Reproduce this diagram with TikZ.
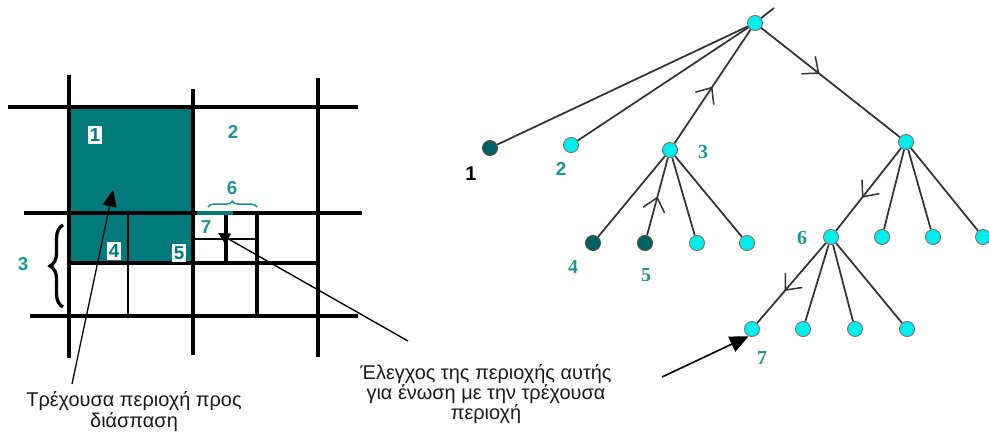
\documentclass[tikz,border=0pt]{standalone}
\usepackage{fontspec}
\setmainfont{Liberation Sans}
\newfontfamily\labelserif{Liberation Serif}
\usetikzlibrary{arrows.meta,decorations.pathreplacing,decorations.markings}

\definecolor{regionteal}{RGB}{0,122,122}
\definecolor{labelteal}{RGB}{25,150,150}
\definecolor{leafcyan}{RGB}{0,238,238}
\definecolor{leafdark}{RGB}{0,98,98}

\tikzset{
  gridline/.style={line width=3.2pt},
  thinline/.style={line width=1.8pt},
  leaf/.style={circle, draw=black!55, line width=0.8pt, fill=leafcyan,
    minimum size=0.45cm, inner sep=0pt},
  doneleaf/.style={leaf, fill=leafdark, draw=black!70},
  edge/.style={draw=black!80, line width=1.5pt},
  midarrow/.style={postaction={decorate}, decoration={markings,
    mark=at position #1 with {\arrow{Straight Barb[length=11pt,width=19pt,line width=1.3pt]}}}},
  numbox/.style={fill=white, text=regionteal, inner sep=1.8pt,
    font=\bfseries\fontsize{16}{16}\selectfont},
  numtext/.style={text=labelteal, font=\bfseries\fontsize{16}{16}\selectfont},
  treenum/.style={text=labelteal, font=\labelserif\bfseries\fontsize{17}{17}\selectfont},
  note/.style={align=center, font=\fontsize{17}{16.2}\selectfont, text=black!90},
  pointer/.style={line width=1.1pt, -{Triangle[length=14pt,width=12pt]}},
}

\begin{document}
\begin{tikzpicture}[x=0.03cm, y=-0.03cm]
\useasboundingbox (0,0) rectangle (989,436);

% region being split
\fill[regionteal] (69,107) rectangle (193,263);

% main grid
\draw[gridline] (69,75) -- (69,358);
\draw[gridline] (193,89) -- (193,355);
\draw[gridline] (318,78) -- (318,357);
\draw[gridline] (8,107) -- (358,107);
\draw[gridline] (24,213) -- (362,213);
\draw[gridline] (69,263) -- (318,263);
\draw[gridline] (30,316) -- (358,316);

% finer cells
\draw[thinline] (128,213) -- (128,316);
\draw[gridline] (257,213) -- (257,316);
\draw[gridline] (226,213) -- (226,263);
\draw[thinline] (193,239) -- (257,239);
\draw[regionteal, line width=3.2pt] (197,213) -- (233,213);

% braces
\draw[line width=2.8pt, decorate, decoration={brace, amplitude=11pt}] (63,307) -- (63,225);
\draw[labelteal, line width=1.3pt, decorate, decoration={brace, amplitude=5pt}] (208,207) -- (257,207);

% region labels
\node[numbox] (g1) at (95,135) {1};
\node[numtext] (g2) at (233,132) {2};
\node[numtext] (g3) at (23,264) {3};
\node[numbox] (g4) at (114,251) {4};
\node[numbox] (g5) at (179,253) {5};
\node[numtext] (g6) at (232,188) {6};
\node[numbox, text=labelteal] (g7) at (206,227) {7};

% notes
\node[note, font=\fontsize{17}{17.9}\selectfont] (splitnote) at (134,412) {Τρέχουσα περιοχή προς\\διάσπαση};
\node[note] (checknote) at (486,394) {Έλεγχος της περιοχής αυτής\\για ένωση με την τρέχουσα\\περιοχή};

\coordinate (splittip) at (113,190);
\coordinate (splitfoot) at (72,384);
\coordinate (cellmark) at (218,233);
\coordinate (checkfoot) at (408,341);
\coordinate (treefoot) at (662,377);

\draw[pointer] (splitfoot) -- (splittip);
\draw[line width=1.2pt, -{Triangle[length=10pt,width=10pt]}] (checkfoot) -- (cellmark);

% tree
\node[leaf] (root) at (755,23) {};
\node[doneleaf] (n1) at (490,148) {};
\node[leaf] (n2) at (571,145) {};
\node[leaf] (n3) at (670,150) {};
\node[leaf] (nR) at (906,142) {};
\node[doneleaf] (n4) at (593,243) {};
\node[doneleaf] (n5) at (645,243) {};
\node[leaf] (n3c) at (697,243) {};
\node[leaf] (n3d) at (747,243) {};
\node[leaf] (n6) at (831,237) {};
\node[leaf] (nRb) at (882,237) {};
\node[leaf] (nRc) at (933,237) {};
\node[leaf] (nRd) at (983,237) {};
\node[leaf] (n7) at (752,329) {};
\node[leaf] (n6b) at (803,329) {};
\node[leaf] (n6c) at (855,329) {};
\node[leaf] (n6d) at (907,329) {};
\coordinate (up) at (774,8);

\draw[edge] (root) -- (up);
\draw[edge] (root) -- (n1);
\draw[edge] (root) -- (n2);
\draw[edge, midarrow=0.5] (n3) -- (root);
\draw[edge, midarrow=0.42] (root) -- (nR);
\draw[edge] (n3) -- (n4);
\draw[edge, midarrow=0.5] (n5) -- (n3);
\draw[edge] (n3) -- (n3c);
\draw[edge] (n3) -- (n3d);
\draw[edge, midarrow=0.6] (nR) -- (n6);
\draw[edge] (nR) -- (nRb);
\draw[edge] (nR) -- (nRc);
\draw[edge] (nR) -- (nRd);
\draw[edge, midarrow=0.6] (n6) -- (n7);
\draw[edge] (n6) -- (n6b);
\draw[edge] (n6) -- (n6c);
\draw[edge] (n6) -- (n6d);

\draw[line width=1.4pt, -{Triangle[length=16pt,width=14pt]}] (treefoot) -- (n7.245);

% tree labels
\node[numtext, text=black, font=\bfseries\fontsize{17}{17}\selectfont] (t1) at (471,174) {1};
\node[numtext] (t2) at (561,169) {2};
\node[treenum] (t3) at (703,152) {3};
\node[treenum] (t4) at (573,267) {4};
\node[treenum] (t5) at (646,275) {5};
\node[treenum] (t6) at (802,238) {6};
\node[treenum] (t7) at (762,358) {7};
\end{tikzpicture}
\end{document}
